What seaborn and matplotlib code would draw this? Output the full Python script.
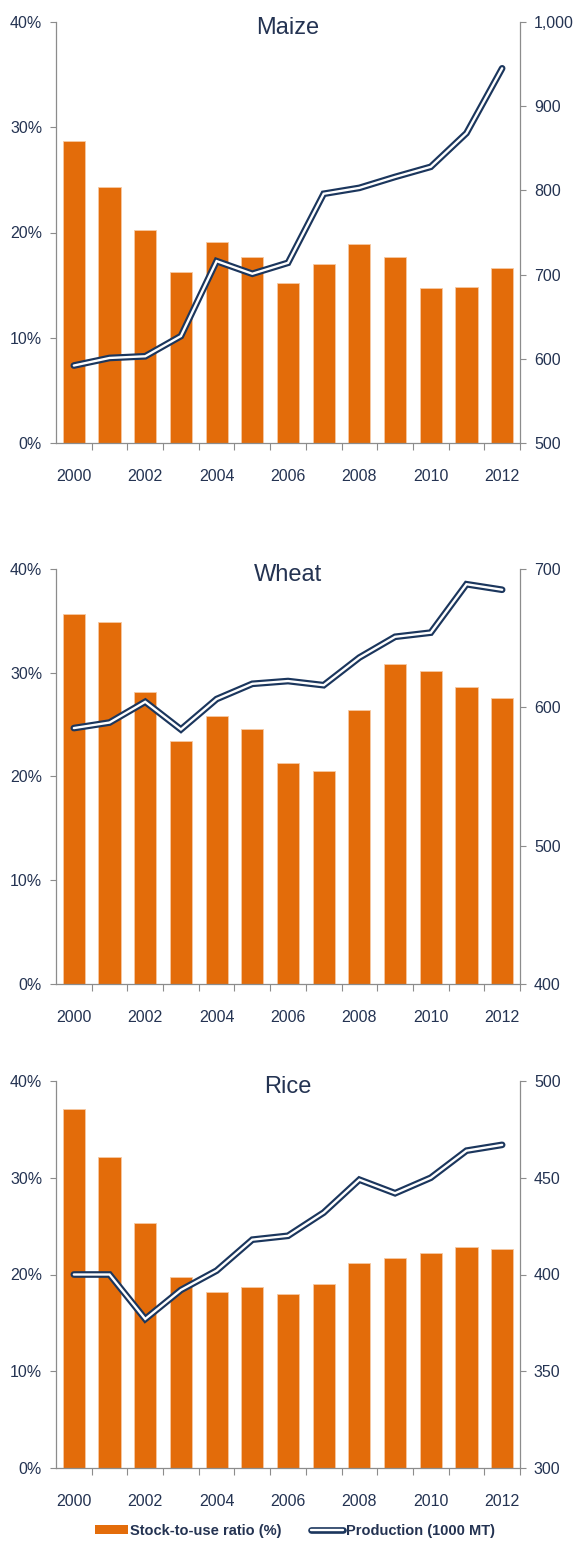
import numpy as np
import pandas as pd
import matplotlib
matplotlib.use("Agg")
import matplotlib.pyplot as plt
import seaborn as sns
from matplotlib import patheffects as pe
from matplotlib.patches import Patch
from matplotlib.lines import Line2D
from matplotlib.ticker import FuncFormatter

years = list(range(2000, 2013))

maize_ratio = [28.7, 24.3, 20.2, 16.2, 19.1, 17.7, 15.2, 17.0, 18.9, 17.7, 14.7, 14.8, 16.6]
maize_prod = [592, 601, 603, 627, 716, 701, 714, 796, 803, 816, 828, 868, 945]

wheat_ratio = [35.7, 34.9, 28.1, 23.4, 25.8, 24.6, 21.3, 20.5, 26.4, 30.8, 30.2, 28.6, 27.6]
wheat_prod = [585, 589, 604, 584, 606, 617, 619, 616, 636, 651, 654, 689, 685]

rice_ratio = [37.1, 32.1, 25.3, 19.7, 18.2, 18.7, 18.0, 19.0, 21.2, 21.7, 22.2, 22.8, 22.6]
rice_prod = [400, 400, 377, 392, 402, 418, 420, 432, 449, 442, 450, 464, 467]

titles = ["Maize", "Wheat", "Rice"]
ratio_label = "Stock-to-use ratio (%)"
prod_label = "Production (1000 MT)"

ORANGE = "#E36C0A"
NAVY = "#1B365D"
TEXT = "#243352"
GRAY = "#8C8C8C"

sns.set_theme(style="ticks")
plt.rcParams["font.family"] = ["Liberation Sans", "DejaVu Sans"]

fig = plt.figure(figsize=(5.79, 15.54), dpi=100)
W, H = 579.0, 1554.0

panels = [
    (titles[0], maize_ratio, maize_prod, (500, 1000), 100, (22, 443), True),
    (titles[1], wheat_ratio, wheat_prod, (400, 700), 100, (569, 984), False),
    (titles[2], rice_ratio, rice_prod, (300, 500), 50, (1081, 1468), False),
]

line_fx = [pe.Stroke(linewidth=4.8, foreground=NAVY), pe.Normal()]

for title, ratio, prod, (lo, hi), step, (ytop, ybot), comma in panels:
    left, right = 56 / W, 520 / W
    rect = [left, 1 - ybot / H, right - left, (ybot - ytop) / H]
    ax = fig.add_axes(rect)
    df = pd.DataFrame({"year": [str(y) for y in years], "pos": np.arange(len(years)),
                       "ratio": ratio, "prod": prod})
    sns.barplot(data=df, x="year", y="ratio", color=ORANGE, saturation=1, width=0.62,
                edgecolor="#F6C9A2", linewidth=0.6, ax=ax)
    ax2 = ax.twinx()
    sns.lineplot(data=df, x="pos", y="prod", ax=ax2, color="white", lw=1.7,
                 path_effects=line_fx, solid_capstyle="round", solid_joinstyle="miter")

    ax.set_xlim(-0.5, len(years) - 0.5)
    ax.set_ylim(0, 40)
    ax.set_yticks([0, 10, 20, 30, 40])
    ax.yaxis.set_major_formatter(FuncFormatter(lambda v, p: f"{v:.0f}%"))
    ax2.set_ylim(lo, hi)
    ax2.set_yticks(np.arange(lo, hi + 1, step))
    if comma:
        ax2.yaxis.set_major_formatter(FuncFormatter(lambda v, p: f"{v:,.0f}"))
    else:
        ax2.yaxis.set_major_formatter(FuncFormatter(lambda v, p: f"{v:.0f}"))

    ax.set_xticks(np.arange(len(years)))
    ax.set_xticklabels([str(y) if i % 2 == 0 else "" for i, y in enumerate(years)])
    ax.set_xticks(np.arange(0.5, len(years), 1), minor=True)
    ax.tick_params(axis="x", which="major", length=0, pad=19, labelsize=11.5, labelcolor=TEXT)
    ax.tick_params(axis="x", which="minor", length=5, width=0.8, color=GRAY, direction="out")
    ax.tick_params(axis="y", length=4, width=0.8, color=GRAY, pad=6, labelsize=11.5, labelcolor=TEXT)
    ax2.tick_params(axis="y", length=4, width=0.8, color=GRAY, pad=6, labelsize=11.5, labelcolor=TEXT)

    for a in (ax, ax2):
        a.set_xlabel("")
        a.set_ylabel("")
        a.spines["top"].set_visible(False)
        for s in ("left", "right", "bottom"):
            a.spines[s].set_color(GRAY)
            a.spines[s].set_linewidth(0.9)
    ax.spines["right"].set_visible(False)
    ax2.spines["left"].set_visible(False)
    ax2.spines["bottom"].set_visible(False)
    ax2.set_xlim(-0.5, len(years) - 0.5)

    ax.text(0.5, 0.985, title, transform=ax.transAxes, ha="center", va="center",
            fontsize=17, color=TEXT)

handles = [
    Patch(facecolor=ORANGE, edgecolor="none", label=ratio_label),
    Line2D([0], [0], color="white", lw=1.7, path_effects=line_fx,
           solid_capstyle="round", label=prod_label),
]
fig.legend(handles=handles, loc="center", bbox_to_anchor=(0.51, 1 - 1531 / H), ncol=2,
           frameon=False, prop={"weight": "bold", "size": 10.5}, labelcolor=TEXT,
           handlelength=2.2, handleheight=0.6, handletextpad=0.2, columnspacing=2.0)

fig.savefig("out.png", dpi=100)
